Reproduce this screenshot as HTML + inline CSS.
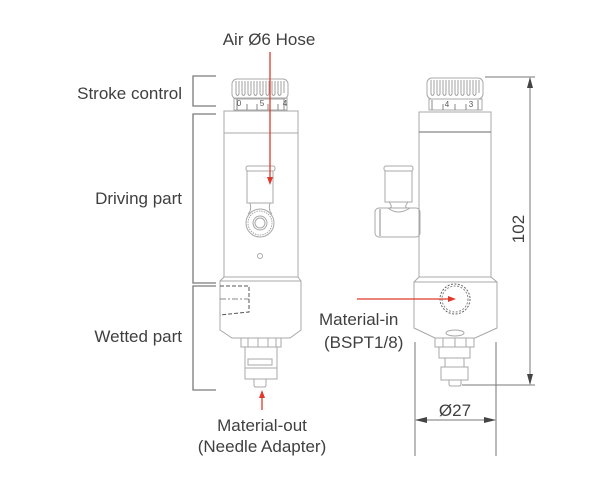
<!DOCTYPE html>
<html><head><meta charset="utf-8"><style>
html,body{margin:0;padding:0;background:#fff;}
svg{display:block;}
text{font-family:"Liberation Sans",Arial,sans-serif;fill:#404040;}
</style></head><body>
<svg width="614" height="498" viewBox="0 0 614 498" xmlns="http://www.w3.org/2000/svg">
<rect width="614" height="498" fill="#fff"/>

<!-- Brackets -->
<g stroke="#7a7a7a" stroke-width="1.3" fill="none">
<path d="M216,76 H193 V106 H216"/>
<path d="M216,114 H193 V283 H216"/>
<path d="M216,286 H193 V390 H216"/>
</g>

<!-- LEFT BODY -->
<g stroke="#a8a8a8" stroke-width="1" fill="none">
<!-- knob -->
<rect x="232" y="79" width="56" height="20" rx="5"/>
<g stroke="#a0a0a0">
<path d="M236,81V94 Q237.5,97 239,94 V81 M242,81V94 Q243.5,97 245,94 V81 M248,81V94 Q249.5,97 251,94 V81 M254,81V94 Q255.5,97 257,94 V81 M260,81V94 Q261.5,97 263,94 V81 M266,81V94 Q267.5,97 269,94 V81 M272,81V94 Q273.5,97 275,94 V81 M278,81V94 Q279.5,97 281,94 V81 M284,81V93"/>
</g>
<rect x="234" y="98" width="53" height="12"/>
<path d="M237,99V110 M247,104V110 M257,104V110 M268,104V110 M278,104V110 M284,99V110" stroke="#888"/>
<!-- main body -->
<rect x="224" y="111" width="74" height="166"/>
<path d="M224,133H298"/>
<!-- fitting -->
<rect x="246" y="166" width="29" height="5" rx="2"/>
<rect x="247" y="171" width="26" height="32"/>
<path d="M250,203 Q252,210 248,214 M270,203 Q268,210 272,214"/>
<circle cx="260" cy="223" r="14"/>
<circle cx="260" cy="223" r="12" stroke-dasharray="1.5 1"/>
<circle cx="260" cy="223" r="7"/>
<circle cx="260" cy="223" r="5"/>
<circle cx="260" cy="256" r="2.5"/>
<!-- wetted block -->
<path d="M224,277 L220,281 V330 L232,338 H290 L301,330 V281 L298,277 Z"/>
<path d="M220,281 H301"/>
<!-- dashed port -->
<path d="M220,286 H249 V312 L220,315" stroke="#555" stroke-dasharray="4 2"/>
<path d="M220,299 H249" stroke="#888" stroke-dasharray="6 2 2 2"/>
<!-- hex -->
<rect x="241" y="338" width="40" height="9"/>
<path d="M248,338V347 M258,338V347 M268,338V347 M276,338V347"/>
<!-- neck -->
<path d="M245,347 V379 H277 V347"/>
<rect x="248" y="359" width="24" height="6"/>
<path d="M245,368H277"/>
<path d="M254,379 V385 Q254,387 256,387 H264 Q266,387 266,385 V379"/>
</g>
<text x="239" y="106" font-size="8" text-anchor="middle" style="fill:#555">0</text>
<text x="262" y="106" font-size="8" text-anchor="middle" style="fill:#555">5</text>
<text x="285" y="106" font-size="8" text-anchor="middle" style="fill:#555">4</text>

<!-- RIGHT BODY -->
<g stroke="#a8a8a8" stroke-width="1" fill="none">
<rect x="427" y="78" width="56" height="21" rx="5"/>
<g stroke="#a0a0a0">
<path d="M431,80V94 Q432.5,97 434,94 V80 M437,80V94 Q438.5,97 440,94 V80 M443,80V94 Q444.5,97 446,94 V80 M449,80V94 Q450.5,97 452,94 V80 M455,80V94 Q456.5,97 458,94 V80 M461,80V94 Q462.5,97 464,94 V80 M467,80V94 Q468.5,97 470,94 V80 M473,80V94 Q474.5,97 476,94 V80 M479,80V93"/>
</g>
<rect x="429" y="99" width="53" height="11"/>
<path d="M432,100V110 M443,104V110 M455,104V110 M466,104V110 M478,100V110" stroke="#888"/>
<rect x="419" y="112" width="72" height="165"/>
<path d="M419,132H491" stroke="#888" stroke-width="1.3"/>
<!-- side fitting -->
<rect x="384" y="166" width="29" height="5" rx="2"/>
<rect x="385" y="171" width="27" height="31"/>
<path d="M389,202 Q393,207 390,208 M408,202 Q404,207 407,208"/>
<rect x="375" y="208" width="45" height="29" rx="4"/>
<path d="M380,209V236" stroke="#888"/>
<path d="M388,208 Q398,216 410,208"/>
<!-- wetted -->
<path d="M419,277 L414,282 V328 L435,338 H475 L497,328 V282 L491,277 Z"/>
<path d="M414,282H497"/>
<ellipse cx="455" cy="333" rx="9" ry="3"/>
<circle cx="455" cy="299" r="15" stroke="#666" stroke-dasharray="2 1.5"/>
<circle cx="455" cy="299" r="13" stroke="#888" stroke-dasharray="2 1.5"/>
<rect x="435" y="338" width="39" height="9"/>
<path d="M443,338V347 M455,338V347 M466,338V347"/>
<path d="M439,347 V358 H470 V347"/>
<path d="M445,358 V367 M464,358 V367"/>
<rect x="441" y="367" width="27" height="13"/>
<path d="M449,380 V384 Q449,386 451,386 H459 Q461,386 461,384 V380"/>
</g>
<text x="447" y="107" font-size="8" text-anchor="middle" style="fill:#555">4</text>
<text x="471" y="107" font-size="8" text-anchor="middle" style="fill:#555">3</text>

<!-- Dimensions -->
<g stroke="#777" stroke-width="1" fill="none">
<path d="M485,77H535"/>
<path d="M462,385H535"/>
<path d="M530,78V384"/>
<path d="M415,342V456 M496,342V456"/>
<path d="M416,420H495"/>
</g>
<g fill="#444">
<polygon points="530,77 527,88 533,88"/>
<polygon points="530,385 527,374 533,374"/>
<polygon points="415,420 427,417 427,423"/>
<polygon points="496,420 484,417 484,423"/>
</g>

<!-- Red arrows -->
<g stroke="#e0392b" stroke-width="1.3" fill="none">
<path d="M270,52V178"/>
<path d="M262,410V396"/>
<path d="M357,299H449"/>
</g>
<g fill="#e0392b">
<polygon points="270,185 267,177 273,177"/>
<polygon points="262,390 259,398 265,398"/>
<polygon points="456,299 448,296 448,302"/>
</g>

<!-- Labels -->
<text x="269" y="45" font-size="17" text-anchor="middle">Air Ø6 Hose</text>
<text x="182" y="99" font-size="17" text-anchor="end">Stroke control</text>
<text x="182" y="204" font-size="17" text-anchor="end">Driving part</text>
<text x="182" y="342" font-size="17" text-anchor="end">Wetted part</text>
<text x="262" y="431" font-size="17" text-anchor="middle">Material-out</text>
<text x="262" y="452" font-size="17" text-anchor="middle">(Needle Adapter)</text>
<text x="319" y="325" font-size="17">Material-in</text>
<text x="324" y="348" font-size="17">(BSPT1/8)</text>
<text x="455" y="416" font-size="17" text-anchor="middle">Ø27</text>
<text transform="translate(524,229) rotate(-90)" font-size="17" text-anchor="middle">102</text>
</svg>
</body></html>
